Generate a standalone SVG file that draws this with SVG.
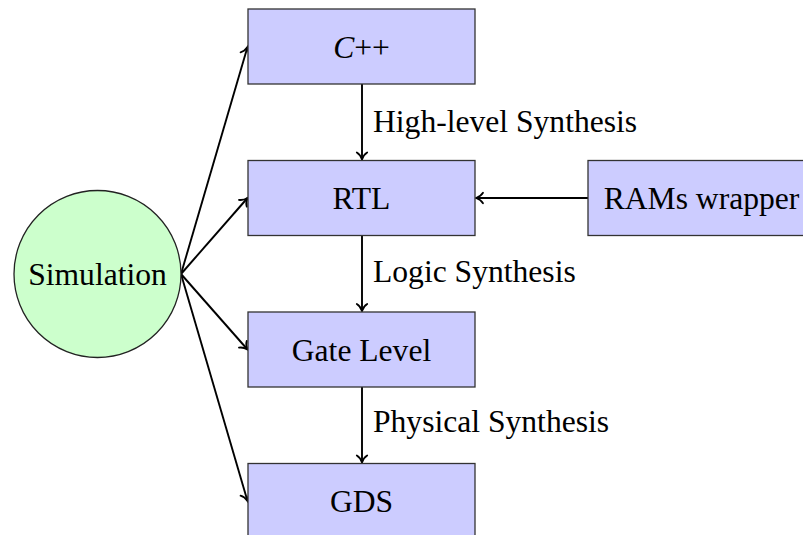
<svg xmlns="http://www.w3.org/2000/svg" width="803" height="535" viewBox="0 0 803 535">
  <style>
    .box { fill: #ccccff; stroke: #333333; stroke-width: 1.3; }
    .sim { fill: #ccffcc; stroke: #222222; stroke-width: 1.3; }
    .lbl { font-family: "Liberation Serif", "Times New Roman", serif; font-size: 31.6px; fill: #000000; }
    .mid { text-anchor: middle; }
    .edge { fill: none; stroke: #000000; stroke-width: 1.9; }
  </style>
  <defs>
    <marker id="to" markerUnits="userSpaceOnUse" markerWidth="14" markerHeight="14" viewBox="-10 -7 12 14" refX="0" refY="0" orient="auto">
      <path d="M -7 -5.2 C -5.2 -2.2, -1.8 -0.6, 0 0 C -1.8 0.6, -5.2 2.2, -7 5.2" fill="none" stroke="#000000" stroke-width="1.8" stroke-linecap="round"/>
    </marker>
  </defs>

  <!-- connectors -->
  <g id="connectors">
    <line class="edge" x1="362" y1="84" x2="362" y2="159.5" marker-end="url(#to)"/>
    <line class="edge" x1="362" y1="235.5" x2="362" y2="311" marker-end="url(#to)"/>
    <line class="edge" x1="362" y1="387" x2="362" y2="462.5" marker-end="url(#to)"/>
    <line class="edge" x1="588" y1="198" x2="476" y2="198" marker-end="url(#to)"/>
    <line class="edge" x1="181" y1="274" x2="247.5" y2="47" marker-end="url(#to)"/>
    <line class="edge" x1="181" y1="274" x2="247.5" y2="198" marker-end="url(#to)"/>
    <line class="edge" x1="181" y1="274" x2="247.5" y2="349.5" marker-end="url(#to)"/>
    <line class="edge" x1="181" y1="274" x2="247.5" y2="501" marker-end="url(#to)"/>
    <text class="lbl" x="373" y="132">High-level Synthesis</text>
    <text class="lbl" x="373" y="282">Logic Synthesis</text>
    <text class="lbl" x="373" y="432">Physical Synthesis</text>
  </g>

  <g id="cpp">
    <rect class="box" x="248" y="9" width="227" height="75"/>
    <text class="lbl mid" x="361.5" y="57.5"><tspan font-style="italic">C</tspan>++</text>
  </g>

  <g id="rtl">
    <rect class="box" x="248" y="160.5" width="227" height="75"/>
    <text class="lbl mid" x="361.5" y="208.5">RTL</text>
  </g>

  <g id="gate">
    <rect class="box" x="248" y="312" width="227" height="75"/>
    <text class="lbl mid" x="361.5" y="360.5">Gate Level</text>
  </g>

  <g id="gds">
    <rect class="box" x="248" y="463.5" width="227" height="75"/>
    <text class="lbl mid" x="361.5" y="511.5">GDS</text>
  </g>

  <g id="rams">
    <rect class="box" x="588" y="160.5" width="227" height="75"/>
    <text class="lbl mid" x="701.5" y="208.5">RAMs wrapper</text>
  </g>

  <g id="simulation">
    <circle class="sim" cx="97.5" cy="274" r="83.5"/>
    <text class="lbl mid" x="97.5" y="284.5">Simulation</text>
  </g>
</svg>
